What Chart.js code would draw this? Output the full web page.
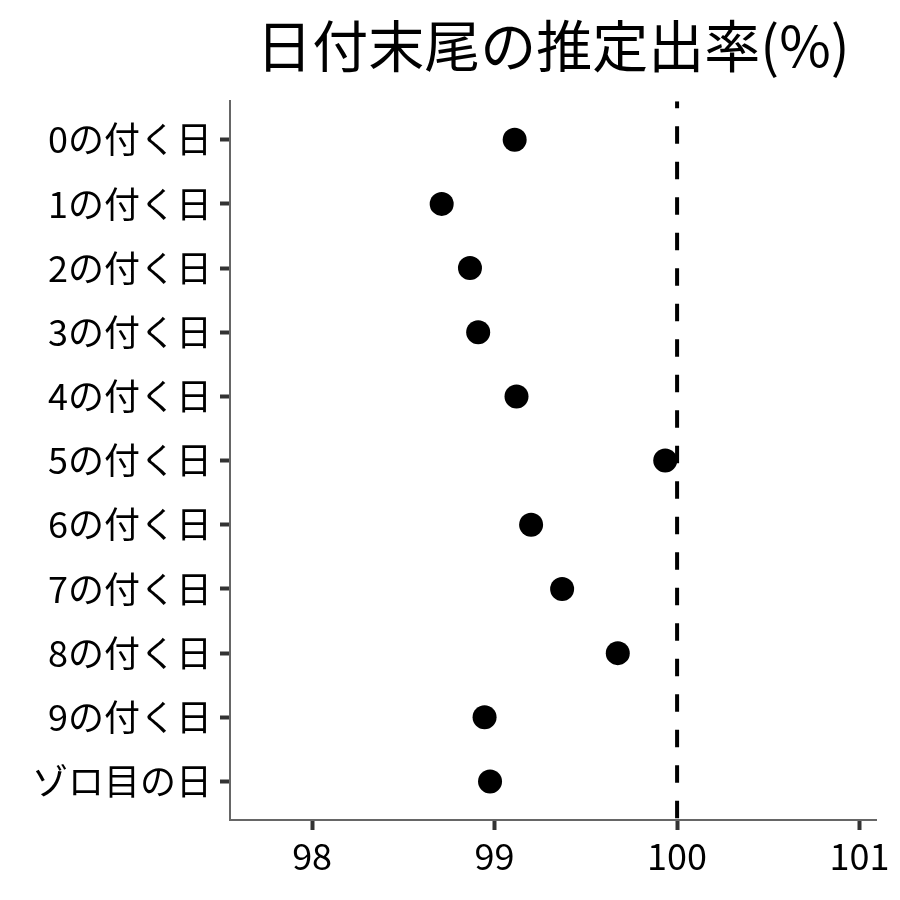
<!DOCTYPE html>
<html>
<head>
<meta charset="utf-8">
<script src="https://cdn.jsdelivr.net/npm/chart.js@4/dist/chart.umd.min.js"></script>
<style>
html,body{margin:0;padding:0;background:#fff;}
#wrap{width:900px;height:900px;}
</style>
</head>
<body>
<div id="wrap"><canvas id="c" width="900" height="900"></canvas></div>
<script>
const categories = ["0の付く日","1の付く日","2の付く日","3の付く日","4の付く日","5の付く日","6の付く日","7の付く日","8の付く日","9の付く日","ゾロ目の日"];
const rates = [99.11, 98.71, 98.865, 98.91, 99.12, 99.935, 99.20, 99.37, 99.675, 98.945, 98.975];
const xTicks = [98, 99, 100, 101];
const refValue = 100;
const titleText = "日付末尾の推定出率(%)";

const FONT = "'Noto Sans CJK JP', 'Noto Sans', sans-serif";

const pointData = rates.map((v, i) => ({x: v, y: i}));
const refLine = [{x: refValue, y: -0.6}, {x: refValue, y: categories.length - 1 + 0.6}];

new Chart(document.getElementById('c'), {
  type: 'scatter',
  data: {
    datasets: [
      {
        type: 'line',
        data: refLine,
        borderColor: '#000',
        borderWidth: 4,
        borderDash: [17.5, 18],
        borderDashOffset: 10.5,
        pointRadius: 0,
        fill: false,
        order: 2
      },
      {
        data: pointData,
        backgroundColor: '#000',
        borderColor: '#000',
        borderWidth: 0,
        pointRadius: 12,
        pointHoverRadius: 12,
        order: 1
      }
    ]
  },
  options: {
    responsive: false,
    animation: false,
    events: [],
    layout: {padding: {left: 0, right: 24, top: 0, bottom: 0}},
    plugins: {
      legend: {display: false},
      tooltip: {enabled: false},
      title: {
        display: true,
        text: titleText,
        fullSize: false,
        color: '#000',
        font: {family: FONT, size: 56, weight: 'normal', lineHeight: 1.2},
        padding: {top: 12, bottom: 22}
      }
    },
    scales: {
      x: {
        type: 'linear',
        min: 97.55,
        max: 101.09,
        afterBuildTicks: (s) => { s.ticks = xTicks.map(v => ({value: v})); },
        afterFit: (s) => { s.height = 80; },
        ticks: {
          color: '#000',
          font: {family: FONT, size: 36},
          padding: 5,
          maxRotation: 0,
          callback: (v) => String(v)
        },
        grid: {drawOnChartArea: false, drawTicks: true, tickLength: 10, tickWidth: 4, tickColor: '#333'},
        border: {display: true, color: '#666', width: 2}
      },
      y: {
        type: 'linear',
        reverse: true,
        min: -0.6,
        max: categories.length - 1 + 0.6,
        afterBuildTicks: (s) => { s.ticks = categories.map((c, i) => ({value: i})); },
        afterFit: (s) => { s.width = 230; },
        ticks: {
          color: '#000',
          font: {family: FONT, size: 36},
          padding: 8,
          callback: (v) => categories[v]
        },
        grid: {drawOnChartArea: false, drawTicks: true, tickLength: 10, tickWidth: 4, tickColor: '#333'},
        border: {display: true, color: '#666', width: 2}
      }
    }
  }
});
</script>
</body>
</html>
